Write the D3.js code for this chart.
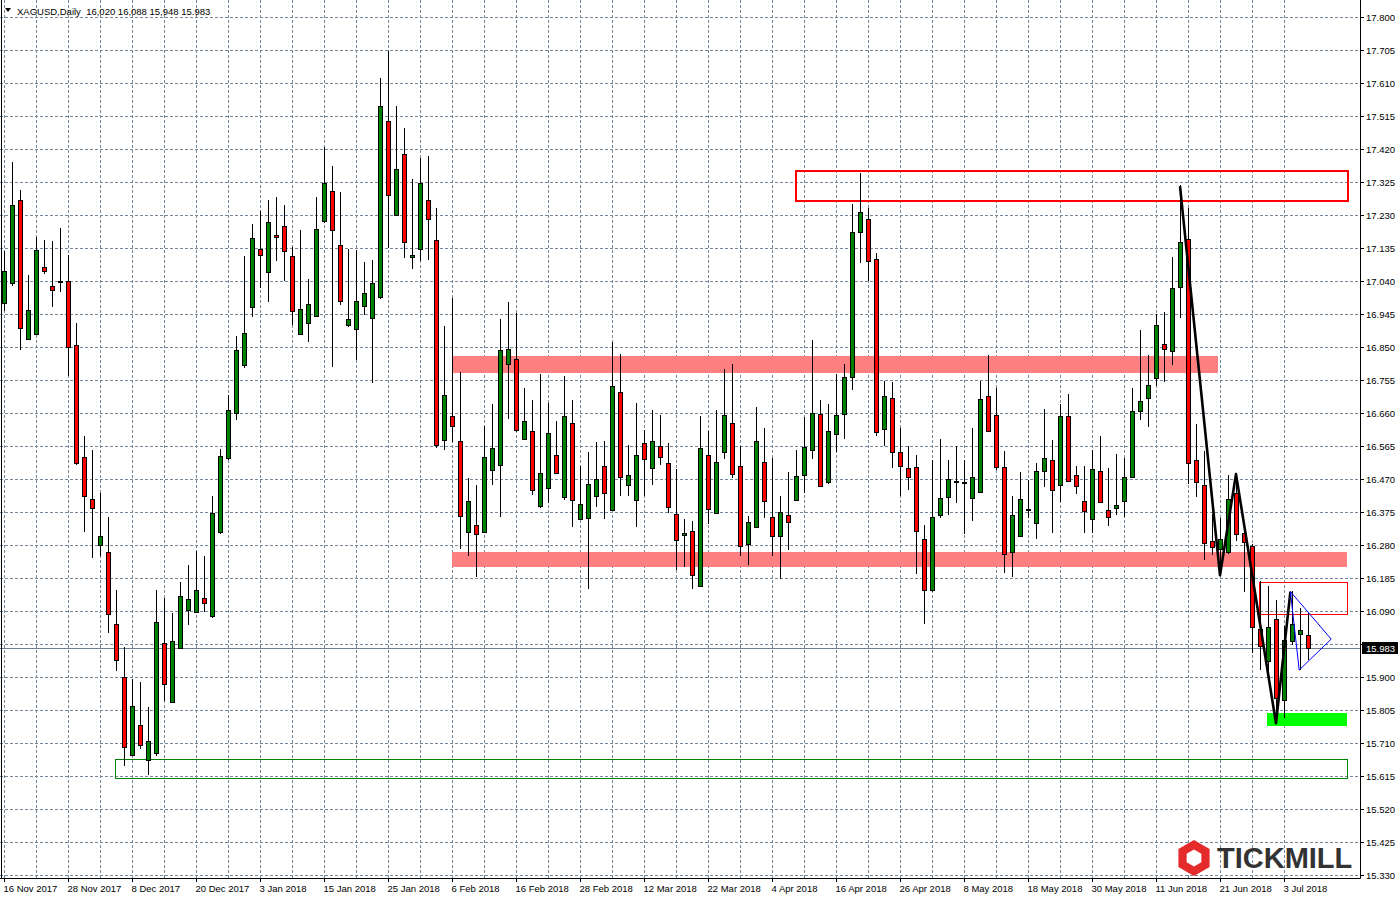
<!DOCTYPE html>
<html><head><meta charset="utf-8">
<script src="https://cdn.jsdelivr.net/npm/d3@7"></script>
<style>
html,body{margin:0;padding:0;background:#fff;}
svg{display:block;}
text{font-family:"Liberation Sans",Arial,sans-serif;}
</style></head><body>
<svg id="chart" width="1400" height="900"></svg>
<script>
// ---------- data ----------
const dates = [
"2017-11-16","2017-11-17","2017-11-20","2017-11-21","2017-11-22","2017-11-23","2017-11-24","2017-11-27","2017-11-28","2017-11-29","2017-11-30",
"2017-12-01","2017-12-04","2017-12-05","2017-12-06","2017-12-07","2017-12-08","2017-12-11","2017-12-12","2017-12-13","2017-12-14","2017-12-15","2017-12-18","2017-12-19","2017-12-20","2017-12-21","2017-12-22","2017-12-26","2017-12-27","2017-12-28","2017-12-29",
"2018-01-02","2018-01-03","2018-01-04","2018-01-05","2018-01-08","2018-01-09","2018-01-10","2018-01-11","2018-01-12","2018-01-15","2018-01-16","2018-01-17","2018-01-18","2018-01-19","2018-01-22","2018-01-23","2018-01-24","2018-01-25","2018-01-26","2018-01-29","2018-01-30","2018-01-31",
"2018-02-01","2018-02-02","2018-02-05","2018-02-06","2018-02-07","2018-02-08","2018-02-09","2018-02-12","2018-02-13","2018-02-14","2018-02-15","2018-02-16","2018-02-19","2018-02-20","2018-02-21","2018-02-22","2018-02-23","2018-02-26","2018-02-27","2018-02-28",
"2018-03-01","2018-03-02","2018-03-05","2018-03-06","2018-03-07","2018-03-08","2018-03-09","2018-03-12","2018-03-13","2018-03-14","2018-03-15","2018-03-16","2018-03-19","2018-03-20","2018-03-21","2018-03-22","2018-03-23","2018-03-26","2018-03-27","2018-03-28","2018-03-29",
"2018-04-02","2018-04-03","2018-04-04","2018-04-05","2018-04-06","2018-04-09","2018-04-10","2018-04-11","2018-04-12","2018-04-13","2018-04-16","2018-04-17","2018-04-18","2018-04-19","2018-04-20","2018-04-23","2018-04-24","2018-04-25","2018-04-26","2018-04-27","2018-04-30",
"2018-05-01","2018-05-02","2018-05-03","2018-05-04","2018-05-07","2018-05-08","2018-05-09","2018-05-10","2018-05-11","2018-05-14","2018-05-15","2018-05-16","2018-05-17","2018-05-18","2018-05-21","2018-05-22","2018-05-23","2018-05-24","2018-05-25","2018-05-28","2018-05-29","2018-05-30","2018-05-31",
"2018-06-01","2018-06-04","2018-06-05","2018-06-06","2018-06-07","2018-06-08","2018-06-11","2018-06-12","2018-06-13","2018-06-14","2018-06-15","2018-06-18","2018-06-19","2018-06-20","2018-06-21","2018-06-22","2018-06-25","2018-06-26","2018-06-27","2018-06-28","2018-06-29",
"2018-07-02","2018-07-03","2018-07-04","2018-07-05","2018-07-06"];

const open = [
16.977,17.035,17.272,16.873,16.888,17.079,17.027,17.040,17.040,16.855,16.533,16.413,16.279,16.260,16.054,15.900,15.675,15.762,15.660,15.681,
15.998,15.828,15.983,16.093,16.087,16.127,16.075,16.318,16.530,16.660,16.797,16.965,17.133,17.066,17.172,17.198,17.112,16.887,16.919,16.939,
17.213,17.299,17.144,16.913,16.903,16.968,16.934,16.994,17.502,17.231,17.407,17.109,17.133,17.274,17.159,16.583,16.652,16.579,16.317,16.339,
16.317,16.496,16.510,16.801,16.815,16.585,16.608,16.392,16.443,16.539,16.418,16.631,16.355,16.358,16.421,16.507,16.381,16.720,16.453,16.410,
16.574,16.502,16.565,16.516,16.370,16.309,16.320,16.162,16.539,16.372,16.548,16.631,16.507,16.283,16.332,16.519,16.361,16.306,16.366,16.410,
16.482,16.553,16.657,16.460,16.600,16.657,16.764,17.181,17.218,17.103,16.614,16.703,16.548,16.502,16.505,16.297,16.150,16.366,16.418,16.463,
16.461,16.415,16.433,16.709,16.654,16.505,16.260,16.306,16.382,16.343,16.492,16.525,16.452,16.651,16.482,16.407,16.354,16.493,16.381,16.386,
16.406,16.476,16.666,16.703,16.762,16.859,16.838,17.024,17.162,16.525,16.453,16.292,16.269,16.259,16.430,16.314,16.278,16.037,15.947,16.067,
15.835,16.005,16.025,16.020];
const high = [
17.126,17.384,17.303,17.056,17.168,17.158,17.154,17.192,17.115,16.918,16.594,16.553,16.430,16.362,16.150,15.986,15.895,15.887,15.815,16.151,
16.126,16.085,16.174,16.223,16.264,16.248,16.422,16.555,16.712,16.882,17.113,17.205,17.242,17.274,17.283,17.260,17.138,17.188,17.046,17.283,
17.426,17.372,17.295,17.131,17.129,17.094,17.100,17.623,17.702,17.545,17.481,17.335,17.393,17.399,17.251,16.910,16.991,16.779,16.473,16.454,
16.624,16.687,16.931,16.980,16.948,16.732,16.697,16.772,16.689,16.638,16.766,16.697,16.508,16.549,16.577,16.579,16.864,16.830,16.568,16.690,
16.610,16.670,16.655,16.575,16.499,16.356,16.350,16.651,16.609,16.670,16.788,16.802,16.565,16.364,16.678,16.618,16.531,16.422,16.491,16.553,
16.648,16.871,16.696,16.687,16.772,16.802,17.263,17.351,17.250,17.121,16.753,16.749,16.618,16.566,16.539,16.339,16.526,16.586,16.526,16.566,
16.526,16.618,16.753,16.828,16.733,16.552,16.422,16.491,16.467,16.517,16.672,16.583,16.687,16.715,16.506,16.506,16.553,16.595,16.503,16.543,
16.531,16.733,16.900,16.828,16.944,16.950,17.110,17.315,17.250,16.628,16.552,16.368,16.359,16.482,16.467,16.320,16.282,16.175,16.161,16.123,
16.046,16.147,16.099,16.088];
const low = [
16.953,17.027,16.842,16.870,16.885,17.059,16.966,17.009,16.766,16.511,16.318,16.244,16.248,16.027,15.918,15.643,15.672,15.693,15.617,15.672,
15.830,15.826,15.980,16.051,16.085,16.087,16.070,16.313,16.525,16.640,16.790,16.935,17.019,16.980,17.097,17.039,16.912,16.885,16.863,16.935,
17.207,16.791,16.970,16.908,16.813,16.941,16.747,16.988,17.135,17.228,17.106,17.074,17.097,17.100,16.560,16.553,16.577,16.268,16.248,16.187,
16.315,16.452,16.360,16.643,16.605,16.583,16.425,16.387,16.400,16.485,16.410,16.331,16.352,16.153,16.388,16.354,16.378,16.420,16.420,16.331,
16.422,16.453,16.509,16.371,16.207,16.216,16.153,16.160,16.341,16.370,16.527,16.472,16.247,16.221,16.330,16.357,16.247,16.182,16.265,16.408,
16.429,16.527,16.448,16.456,16.547,16.585,16.725,17.091,17.039,16.593,16.564,16.502,16.420,16.437,16.196,16.052,16.145,16.357,16.365,16.400,
16.311,16.348,16.430,16.605,16.495,16.198,16.187,16.304,16.359,16.297,16.446,16.314,16.403,16.462,16.426,16.314,16.314,16.400,16.334,16.365,
16.360,16.474,16.639,16.621,16.739,16.749,16.798,16.934,16.456,16.418,16.237,16.251,16.195,16.255,16.292,16.145,15.969,15.921,15.918,15.768,
15.782,15.993,15.921,15.948];
const close = [
17.070,17.258,16.904,16.956,17.130,17.068,17.015,17.037,16.850,16.516,16.422,16.387,16.307,16.082,15.948,15.698,15.816,15.704,15.716,16.058,
15.880,16.004,16.133,16.125,16.150,16.113,16.372,16.536,16.669,16.841,16.891,17.164,17.114,17.210,17.168,17.126,16.953,16.959,16.974,17.190,
17.322,17.187,16.982,16.932,16.981,17.006,17.035,17.545,17.289,17.363,17.153,17.116,17.323,17.219,16.568,16.713,16.623,16.363,16.407,16.312,
16.533,16.559,16.841,16.844,16.610,16.637,16.438,16.487,16.602,16.487,16.651,16.410,16.398,16.456,16.470,16.430,16.738,16.477,16.481,16.539,
16.528,16.579,16.533,16.389,16.294,16.315,16.194,16.559,16.383,16.519,16.654,16.484,16.277,16.346,16.579,16.406,16.306,16.375,16.346,16.479,
16.563,16.660,16.450,16.608,16.654,16.764,17.181,17.239,17.098,16.605,16.709,16.548,16.507,16.476,16.320,16.150,16.361,16.415,16.470,16.462,
16.460,16.477,16.700,16.608,16.505,16.254,16.366,16.412,16.383,16.493,16.530,16.438,16.651,16.464,16.450,16.378,16.499,16.404,16.360,16.395,
16.476,16.666,16.695,16.741,16.914,16.845,17.021,17.152,16.517,16.462,16.287,16.275,16.298,16.413,16.312,16.290,16.045,15.990,16.044,15.839,
16.007,16.053,16.035,15.983];

const priceTicks = [17.800,17.705,17.610,17.515,17.420,17.325,17.230,17.135,17.040,16.945,16.850,16.755,16.660,16.565,16.470,16.375,16.280,16.185,16.090,15.995,15.900,15.805,15.710,15.615,15.520,15.425,15.330];
const dateTickIndex = [0,8,16,24,32,40,48,56,64,72,80,88,96,104,112,120,128,136,144,152,160];
const dateTickLabels = ["16 Nov 2017","28 Nov 2017","8 Dec 2017","20 Dec 2017","3 Jan 2018","15 Jan 2018","25 Jan 2018","6 Feb 2018","16 Feb 2018","28 Feb 2018","12 Mar 2018","22 Mar 2018","4 Apr 2018","16 Apr 2018","26 Apr 2018","8 May 2018","18 May 2018","30 May 2018","11 Jun 2018","21 Jun 2018","3 Jul 2018"];

const titleText = "XAGUSD,Daily  16,020 16,088 15,948 15.983";
const lastPrice = 15.983;

// annotation objects: [startIndex, endIndex, priceTop, priceBottom]
const pinkBands = [[56, 151.8, 16.824, 16.776],[56, 167.9, 16.260, 16.218]];
const redBoxes = [[98.9, 167.9, 17.360, 17.273],[156.9, 167.9, 16.174, 16.081]];
const greenBox = [13.9, 167.9, 15.664, 15.609];
const greenFill = [157.9, 167.9, 15.795, 15.760];
const zigzagIdx = [147, 152, 154, 159, 160.8];
const zigzagPrice = [17.313, 16.193, 16.484, 15.767, 16.146];
const triangleIdx = [160.8, 165.9, 161.9];
const trianglePrice = [16.146, 16.009, 15.920];

// ---------- layout ----------
const plotRight = 1360, plotBottom = 878;
const svg = d3.select("#chart");
const x = d3.scaleLinear().domain([0, dates.length - 1]).range([4, 4 + 8 * (dates.length - 1)]);
const y = d3.scaleLinear().domain([15.330, 17.800]).range([875, 17]);
const gridColor = "#778899";
const snap = v => Math.round(v) + 0.5;

// grid
const grid = svg.append("g").attr("shape-rendering","crispEdges");
grid.selectAll("line.h").data(priceTicks).join("line").attr("class","h")
  .attr("x1",0).attr("x2",plotRight).attr("y1",d=>snap(y(d))).attr("y2",d=>snap(y(d)))
  .attr("stroke",gridColor).attr("stroke-dasharray","3,2");
grid.selectAll("line.v").data(d3.range(0, dates.length, 4)).join("line").attr("class","v")
  .attr("x1",d=>snap(x(d))).attr("x2",d=>snap(x(d))).attr("y1",0).attr("y2",plotBottom)
  .attr("stroke",gridColor).attr("stroke-dasharray","3,2");

// background objects
const obj = svg.append("g").attr("shape-rendering","crispEdges");
obj.selectAll("rect.pink").data(pinkBands).join("rect").attr("class","pink")
  .attr("x",d=>x(d[0])).attr("width",d=>x(d[1])-x(d[0]))
  .attr("y",d=>y(d[2])).attr("height",d=>y(d[3])-y(d[2]))
  .attr("fill","#ff8080");
obj.selectAll("rect.redbox").data(redBoxes).join("rect").attr("class","redbox")
  .attr("x",d=>snap(x(d[0]))).attr("width",d=>Math.round(x(d[1])-x(d[0])))
  .attr("y",d=>snap(y(d[2]))).attr("height",d=>Math.round(y(d[3])-y(d[2])))
  .attr("fill","none").attr("stroke","#ff0000").attr("stroke-width",(d,i)=>i===0?2:1);
obj.append("rect")
  .attr("x",snap(x(greenBox[0]))).attr("width",Math.round(x(greenBox[1])-x(greenBox[0])))
  .attr("y",snap(y(greenBox[2]))).attr("height",Math.round(y(greenBox[3])-y(greenBox[2])))
  .attr("fill","none").attr("stroke","#008000");
obj.append("rect")
  .attr("x",x(greenFill[0])).attr("width",x(greenFill[1])-x(greenFill[0]))
  .attr("y",y(greenFill[2])).attr("height",y(greenFill[3])-y(greenFill[2]))
  .attr("fill","#00ff00");

// current price line
svg.append("line").attr("x1",0).attr("x2",plotRight)
  .attr("y1",snap(y(lastPrice))).attr("y2",snap(y(lastPrice)))
  .attr("stroke","#708090").attr("shape-rendering","crispEdges");

// candles
const bars = dates.map((d,i)=>({i, o:open[i], h:high[i], l:low[i], c:close[i]}));
const cg = svg.append("g").attr("shape-rendering","crispEdges");
cg.selectAll("line.wick").data(bars).join("line").attr("class","wick")
  .attr("x1",d=>snap(x(d.i))).attr("x2",d=>snap(x(d.i)))
  .attr("y1",d=>y(d.h)).attr("y2",d=>y(d.l)).attr("stroke","#000");
cg.selectAll("rect.body").data(bars).join("rect").attr("class","body")
  .attr("x",d=>Math.round(x(d.i))-1.5).attr("width",4)
  .attr("y",d=>Math.round(y(Math.max(d.o,d.c)))+0.5)
  .attr("height",d=>Math.max(1, Math.round(y(Math.min(d.o,d.c))) - Math.round(y(Math.max(d.o,d.c)))))
  .attr("fill",d=>d.c>d.o?"#008000":(d.c<d.o?"#ff0000":"#000"))
  .attr("stroke","#000");

// zigzag
const zz = zigzagIdx.map((v,k)=>[x(v), y(zigzagPrice[k])]);
svg.append("path").attr("d",d3.line()(zz)).attr("fill","none")
  .attr("stroke","#000").attr("stroke-width",2.6).attr("stroke-linejoin","round");
// triangle
const tri = triangleIdx.map((v,k)=>[x(v), y(trianglePrice[k])]);
svg.append("path").attr("d",d3.line()(tri)+"Z").attr("fill","none")
  .attr("stroke","#0000ff").attr("stroke-width",1);

// axes (the 15.995 label is covered by the last-price box, as in MT4)
const axR = svg.append("g").attr("transform",`translate(${plotRight},0)`)
  .call(d3.axisRight(y).tickValues(priceTicks).tickSize(4).tickPadding(2).tickSizeOuter(0)
    .tickFormat(d=>Math.abs(d-lastPrice)<0.02 ? "" : d.toFixed(3)));
axR.select(".domain").remove();
axR.selectAll("line").attr("stroke","#000").attr("shape-rendering","crispEdges");
axR.selectAll("text").attr("font-size","9.5px").attr("font-family","Liberation Sans, Arial, sans-serif").attr("fill","#000");

const axB = svg.append("g").attr("transform",`translate(0,${plotBottom})`)
  .call(d3.axisBottom(x).tickValues(dateTickIndex).tickSize(4).tickPadding(3).tickSizeOuter(0)
    .tickFormat((d,k)=>dateTickLabels[k]));
axB.select(".domain").remove();
axB.selectAll("line").attr("stroke","#000").attr("shape-rendering","crispEdges");
axB.selectAll("text").attr("text-anchor","start").attr("dx","-1")
  .attr("font-size","9.5px").attr("font-family","Liberation Sans, Arial, sans-serif").attr("fill","#000");

// frame lines
svg.append("line").attr("x1",plotRight+0.5).attr("x2",plotRight+0.5).attr("y1",0).attr("y2",plotBottom+0.5).attr("stroke","#000");
svg.append("line").attr("x1",0).attr("x2",plotRight+0.5).attr("y1",plotBottom+0.5).attr("y2",plotBottom+0.5).attr("stroke","#000");
svg.append("line").attr("x1",1.5).attr("x2",1.5).attr("y1",0).attr("y2",plotBottom).attr("stroke","#000");

// last price label
const ly = y(lastPrice);
svg.append("rect").attr("x",1362).attr("y",Math.round(ly)-6).attr("width",36).attr("height",12).attr("fill","#000");
svg.append("text").attr("x",1366).attr("y",Math.round(ly)+3.5).attr("font-size","9.5px").attr("fill","#fff").text(lastPrice.toFixed(3));

// title
svg.append("path").attr("d","M5,8 L11,8 L8,12 Z").attr("fill","#000");
svg.append("text").attr("x",17).attr("y",14.5).attr("font-size","9.5px").attr("fill","#000")
  .attr("xml:space","preserve").style("white-space","pre").text(titleText);

// logo
const hex = (cx,cy,r)=>d3.range(6).map(k=>{const a=Math.PI/180*(60*k-90);return [cx+r*Math.cos(a), cy+r*Math.sin(a)];});
svg.append("path").attr("d",d3.line()(hex(1194,858,18))+"Z").attr("fill","#e42a2a");
svg.append("path").attr("d",d3.line()(hex(1194,858,8.5))+"Z").attr("fill","#fff");
svg.append("text").attr("x",1217).attr("y",868).attr("font-size","29px").attr("font-weight","bold")
  .attr("font-family","Liberation Sans, Arial, sans-serif").attr("fill","#333").text("TICKMILL");
</script>
</body></html>
